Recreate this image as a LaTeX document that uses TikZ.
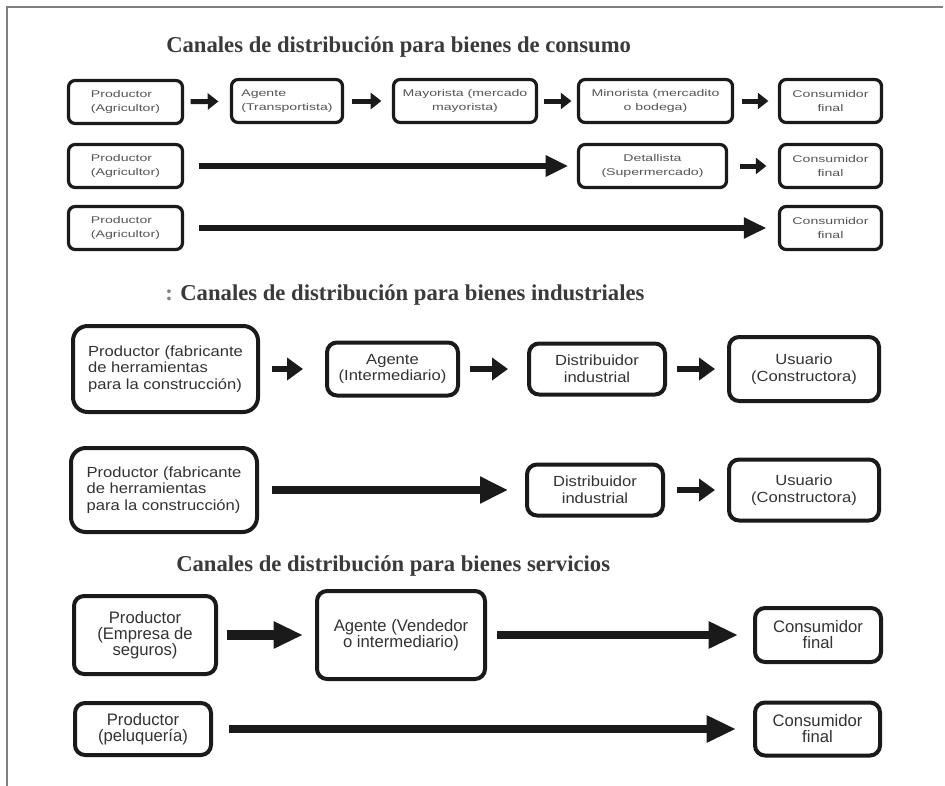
\documentclass[tikz,border=0pt]{standalone}
\usepackage{fontspec}
\setmainfont{Liberation Sans}
\newfontfamily\csans[FakeStretch=1.45]{Liberation Sans}
\newfontfamily\isans[FakeStretch=1.13]{Liberation Sans}
\newfontfamily\ssans{Liberation Sans}
\newfontfamily\tserif{Liberation Serif}
\usetikzlibrary{arrows.meta}
\definecolor{boxc}{HTML}{1A1A1A}
\definecolor{ctext}{HTML}{555555}
\definecolor{dtext}{HTML}{333333}
\definecolor{ttext}{HTML}{3A3A3A}
\definecolor{framec}{HTML}{808080}
\tikzset{
  cbox/.style={draw=boxc, line width=2.4pt, rounded corners=5pt, inner sep=0pt,
    text=ctext, font=\csans\fontsize{7.3}{10.5}\selectfont, align=center},
  ibox/.style={draw=boxc, line width=3pt, rounded corners=7.5pt, inner sep=0pt,
    text=dtext, font=\isans\fontsize{11}{12.5}\selectfont, align=center},
  sbox/.style={draw=boxc, line width=3pt, rounded corners=7.5pt, inner sep=0pt,
    text=dtext, font=\ssans\fontsize{12.5}{12}\selectfont, align=center},
  ttl/.style={anchor=base west, inner sep=0pt, text=ttext,
    font=\tserif\bfseries\fontsize{17}{20}\selectfont},
  carr/.style={draw=boxc, line width=3.75pt, -{Triangle[length=8pt,width=12pt]}},
  carrl/.style={draw=boxc, line width=4.5pt, -{Triangle[length=17pt,width=15pt]}},
  iarr/.style={draw=boxc, line width=5pt, -{Triangle[length=12pt,width=16.5pt]}},
  iarrl/.style={draw=boxc, line width=6pt, -{Triangle[length=21pt,width=19pt]}},
  sarr/.style={draw=boxc, line width=7.5pt, -{Triangle[length=22pt,width=19pt]}},
  sarrl/.style={draw=boxc, line width=6pt, -{Triangle[length=22pt,width=19pt]}},
}
\begin{document}
\begin{tikzpicture}[x=0.75pt,y=-0.75pt]
\useasboundingbox (0,0) rectangle (945,785);
\fill[white] (0,0) rectangle (945,785);
% frame
\coordinate (fbl) at (7,786);
\coordinate (ftl) at (7,7);
\coordinate (ftr) at (943,7);
\draw[framec, line width=1.5pt] (fbl) -- (ftl) -- (ftr);

% ---------- Consumo ----------
\node[ttl] (t1) at (166,52) {Canales de distribución para bienes de consumo};

\node[cbox, align=left, minimum width=85.5pt, minimum height=32.25pt] (c11) at (125.5,102) {Productor\\(Agricultor)};
\node[cbox, align=left, minimum width=83.25pt, minimum height=32.25pt] (c12) at (287,101) {Agente\\(Transportista)};
\node[cbox, minimum width=107.25pt, minimum height=32.25pt] (c13) at (465,101) {Mayorista (mercado\\mayorista)};
\node[cbox, minimum width=115.5pt, minimum height=32.25pt] (c14) at (655.5,101) {Minorista (mercadito\\o bodega)};
\node[cbox, minimum width=76.5pt, minimum height=32.25pt] (c15) at (830.5,101) {Consumidor\\final};

\node[cbox, align=left, minimum width=85.5pt, minimum height=32.25pt] (c21) at (125.5,166) {Productor\\(Agricultor)};
\node[cbox, minimum width=111pt, minimum height=32.25pt] (c22) at (652.5,166) {Detallista\\(Supermercado)};
\node[cbox, minimum width=76.5pt, minimum height=32.25pt] (c23) at (830.5,166) {Consumidor\\final};

\node[cbox, align=left, minimum width=85.5pt, minimum height=32.25pt] (c31) at (125.5,228) {Productor\\(Agricultor)};
\node[cbox, minimum width=76.5pt, minimum height=32.25pt] (c32) at (830.5,228) {Consumidor\\final};

\draw[carr, shorten <=4.9pt, shorten >=8.6pt] (c11) -- (c12);
\draw[carr, shorten <=5.6pt, shorten >=7.9pt] (c12) -- (c13);
\draw[carr, shorten <=4.1pt, shorten >=4.1pt] (c13) -- (c14);
\draw[carr, shorten <=5.6pt, shorten >=7.1pt] (c14) -- (c15);
\draw[carrl, shorten <=10.9pt, shorten >=6.4pt] (c21) -- (c22);
\draw[carr, shorten <=8.6pt, shorten >=8.6pt] (c22) -- (c23);
\draw[carrl, shorten <=10.9pt, shorten >=8.6pt] (c31) -- (c32);

% ---------- Industriales ----------
\node[ttl] (t2) at (165,300) {{\color{framec}:} Canales de distribución para bienes industriales};

\node[ibox, align=left, rounded corners=11pt, minimum width=138.75pt, minimum height=64.5pt] (i11) at (165.5,369) {Productor (fabricante\\de herramientas\\para la construcción)};
\node[ibox, minimum width=98.25pt, minimum height=39.75pt] (i12) at (392.5,369) {Agente\\(Intermediario)};
\node[ibox, minimum width=102pt, minimum height=38.25pt] (i13) at (597,369) {Distribuidor\\industrial};
\node[ibox, minimum width=112.5pt, minimum height=48pt] (i14) at (804,369) {Usuario\\(Constructora)};

\node[ibox, align=left, rounded corners=11pt, minimum width=139.5pt, minimum height=63pt] (i21) at (164,490) {Productor (fabricante\\de herramientas\\para la construcción)};
\node[ibox, minimum width=102pt, minimum height=38.25pt] (i22) at (595,490) {Distribuidor\\industrial};
\node[ibox, minimum width=112.5pt, minimum height=45.75pt] (i23) at (804,490) {Usuario\\(Constructora)};

\draw[iarr, shorten <=9pt, shorten >=16.5pt] (i11) -- (i12);
\draw[iarr, shorten <=7.5pt, shorten >=14.25pt] (i12) -- (i13);
\draw[iarr, shorten <=7.5pt, shorten >=9pt] (i13) -- (i14);
\draw[iarrl, shorten <=9.75pt, shorten >=12.75pt] (i21) -- (i22);
\draw[iarr, shorten <=9pt, shorten >=9pt] (i22) -- (i23);

% ---------- Servicios ----------
\node[ttl] (t3) at (176,571) {Canales de distribución para bienes servicios};

\node[sbox, minimum width=106.5pt, minimum height=58.5pt] (s11) at (145,635) {Productor\\(Empresa de\\seguros)};
\node[sbox, minimum width=126pt, minimum height=66pt] (s12) at (401,635) {Agente (Vendedor\\o intermediario)};
\node[sbox, minimum width=94.5pt, minimum height=40.5pt] (s13) at (818,635) {Consumidor\\final};

\node[sbox, minimum width=102pt, minimum height=39pt] (s21) at (143,729) {Productor\\(peluquería)};
\node[sbox, minimum width=93.75pt, minimum height=39.75pt] (s22) at (817.5,729) {Consumidor\\final};

\draw[sarr, shorten <=6.75pt, shorten >=9pt] (s11) -- (s12);
\draw[sarrl, shorten <=7.5pt, shorten >=11.25pt] (s12) -- (s13);
\draw[sarrl, shorten <=12pt, shorten >=12.75pt] (s21) -- (s22);
\end{tikzpicture}
\end{document}
